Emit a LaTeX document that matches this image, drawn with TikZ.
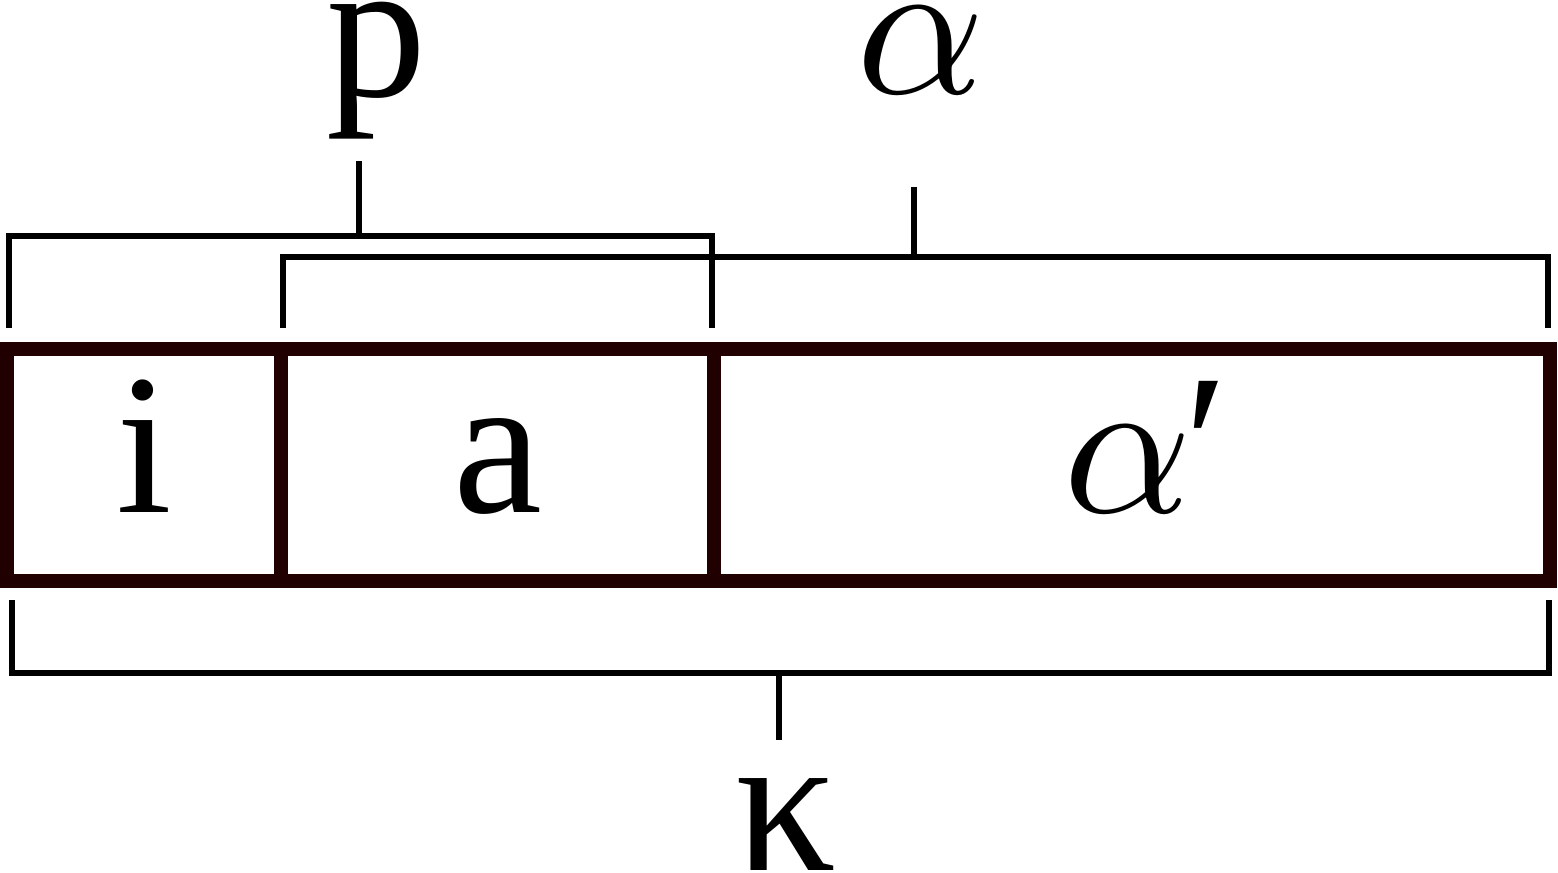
\documentclass[tikz,border=0pt]{standalone}
\usepackage{fontspec}
\setmainfont{Liberation Serif}
\newfontfamily\greekmath{latinmodern-math.otf}
\usetikzlibrary{positioning}

\definecolor{boxbrown}{HTML}{200000}
\tikzset{
  cell/.style={draw=boxbrown, line width=4pt, minimum height=2.32cm,
               inner sep=0pt, outer sep=0pt, text height=0.95cm, text depth=0pt,
               font=\fontsize{57}{57}\selectfont},
  brace/.style={line width=1.7pt},
  lbl/.style={anchor=base, inner sep=0pt, font=\fontsize{57}{57}\selectfont}
}

\begin{document}
\begin{tikzpicture}
\useasboundingbox (0,0) rectangle (15.58,-8.73);

% the three cells
\node[cell, minimum width=2.74cm] (i) at (1.44,-4.65) {i};
\node[cell, minimum width=4.33cm, right=0pt of i] (a) {a};
\node[cell, minimum width=8.36cm, right=0pt of a] (alphap)
  {\kern0.135em{\greekmath 𝛼}\kern-0.035em′};

% braces above and below
\coordinate (pl) at (0.09,-3.28);
\coordinate (pr) at (7.12,-3.28);
\coordinate (ps) at (3.59,-1.61);
\draw[brace] (pl) |- (pr |- 0,-2.36) -- (pr);
\draw[brace] (ps) -- (ps |- 0,-2.36);

\coordinate (al) at (2.83,-3.28);
\coordinate (ar) at (15.48,-3.28);
\coordinate (as) at (9.14,-1.87);
\draw[brace] (al) |- (ar |- 0,-2.57) -- (ar);
\draw[brace] (as) -- (as |- 0,-2.57);

\coordinate (kl) at (0.12,-6.00);
\coordinate (kr) at (15.49,-6.00);
\coordinate (ks) at (7.79,-7.40);
\draw[brace] (kl) |- (kr |- 0,-6.73) -- (kr);
\draw[brace] (ks) -- (ks |- 0,-6.73);

% labels
\node[lbl] (p) at (3.77,-0.97) {p};
\node[lbl] (alpha) at (9.21,-0.94) {\greekmath 𝛼};
\node[lbl] (kappa) at (7.86,-8.71) {κ};
\end{tikzpicture}
\end{document}
